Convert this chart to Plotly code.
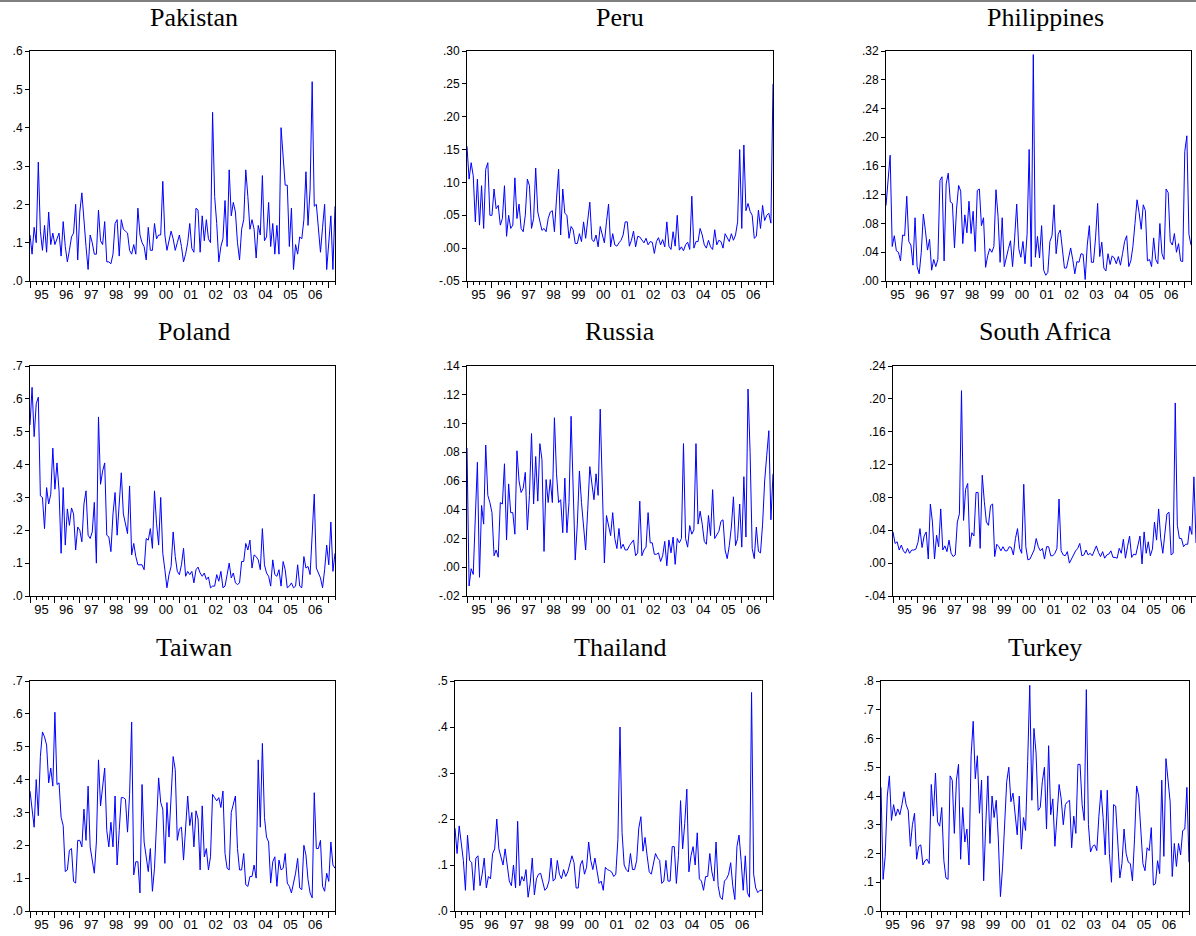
import plotly.graph_objects as go

# ---------------- data (monthly, 1995M01 - 2007M04) ----------------
year_labels = ["95", "96", "97", "98", "99", "00", "01", "02", "03", "04", "05", "06"]

pakistan = [
    0.12, 0.07, 0.14, 0.10, 0.31, 0.13, 0.08, 0.145, 0.075, 0.18, 0.095, 0.125,
    0.095, 0.11, 0.125, 0.065, 0.155, 0.09, 0.05, 0.08, 0.115, 0.125, 0.20, 0.055,
    0.18, 0.23, 0.15, 0.09, 0.03, 0.12, 0.10, 0.07, 0.07, 0.185, 0.105, 0.095,
    0.155, 0.05, 0.05, 0.045, 0.07, 0.15, 0.16, 0.065, 0.16, 0.135, 0.13, 0.125,
    0.08, 0.07, 0.095, 0.07, 0.19, 0.12, 0.10, 0.09, 0.055, 0.14, 0.08, 0.08,
    0.15, 0.11, 0.12, 0.12, 0.26, 0.12, 0.08, 0.11, 0.13, 0.11, 0.08, 0.10,
    0.12, 0.09, 0.05, 0.07, 0.10, 0.15, 0.085, 0.075, 0.19, 0.185, 0.075, 0.17,
    0.105, 0.16, 0.11, 0.10, 0.44, 0.22, 0.15, 0.05, 0.09, 0.11, 0.21, 0.09,
    0.29, 0.17, 0.205, 0.18, 0.10, 0.055, 0.135, 0.16, 0.29, 0.22, 0.135, 0.16,
    0.135, 0.06, 0.145, 0.12, 0.275, 0.105, 0.115, 0.205, 0.09, 0.15, 0.07, 0.145,
    0.07, 0.40, 0.33, 0.25, 0.25, 0.09, 0.19, 0.03, 0.095, 0.07, 0.115, 0.11,
    0.16, 0.285, 0.145, 0.24, 0.52, 0.195, 0.20, 0.13, 0.075, 0.14, 0.20, 0.03,
    0.11, 0.17, 0.03, 0.195,
]

peru = [
    0.155, 0.105, 0.13, 0.11, 0.04, 0.105, 0.035, 0.095, 0.03, 0.12, 0.13, 0.05,
    0.05, 0.09, 0.06, 0.065, 0.035, 0.045, 0.095, 0.018, 0.05, 0.03, 0.035, 0.107,
    0.045, 0.067, 0.03, 0.025, 0.05, 0.105, 0.095, 0.03, 0.045, 0.122, 0.055, 0.04,
    0.027, 0.03, 0.025, 0.045, 0.055, 0.057, 0.025, 0.075, 0.12, 0.02, 0.09, 0.053,
    0.05, 0.015, 0.033, 0.028, 0.007, 0.007, 0.022, 0.01, 0.04, 0.015, 0.045, 0.07,
    0.013, 0.01, 0.02, 0.002, 0.033, 0.02, 0.008, 0.04, 0.067, 0.002, 0.022, 0.005,
    0.003, 0.008, 0.012, 0.02, 0.04, 0.04, 0.003, 0.012, 0.026, 0.002, 0.018, 0.017,
    0.013, 0.008, 0.015, 0.005, 0.01, 0.009, -0.008, 0.01, 0.016, 0.005, 0.013, 0.002,
    0.04, 0.003, -0.002, 0.025, 0.003, 0.05, -0.003, 0.002, -0.004, 0.005, 0.009, -0.002,
    0.079, 0.0, 0.01, 0.01, 0.03, 0.02, 0.005, 0.0, 0.012, 0.002, -0.002, 0.028,
    0.005, 0.012, 0.01, 0.0, 0.022, 0.016, 0.01, 0.022, 0.012, 0.02, 0.04, 0.15,
    0.03, 0.157, 0.057, 0.068, 0.056, 0.05, 0.015, 0.018, 0.058, 0.03, 0.065, 0.042,
    0.05, 0.053, 0.038, 0.25,
]

philippines = [
    0.105, 0.14, 0.175, 0.048, 0.063, 0.042, 0.04, 0.028, 0.064, 0.063, 0.118, 0.055,
    0.05, 0.022, 0.088, 0.02, 0.01, 0.04, 0.093, 0.07, 0.043, 0.058, 0.015, 0.03,
    0.02, 0.03, 0.14, 0.145, 0.028, 0.135, 0.15, 0.11, 0.108, 0.046, 0.10, 0.133,
    0.125, 0.052, 0.092, 0.067, 0.111, 0.066, 0.097, 0.041, 0.126, 0.128, 0.077, 0.088,
    0.019, 0.035, 0.045, 0.04, 0.048, 0.127, 0.09, 0.026, 0.088, 0.02, 0.035, 0.045,
    0.056, 0.02, 0.06, 0.107, 0.045, 0.033, 0.055, 0.024, 0.065, 0.183, 0.02, 0.315,
    0.033, 0.062, 0.032, 0.077, 0.015, 0.008, 0.012, 0.055, 0.063, 0.106, 0.038, 0.065,
    0.071, 0.04, 0.018, 0.018, 0.033, 0.046, 0.03, 0.01, 0.027, 0.026, 0.038, 0.037,
    0.002, 0.05, 0.077, 0.026, 0.026, 0.06, 0.108, 0.034, 0.054, 0.018, 0.014, 0.038,
    0.023, 0.035, 0.032, 0.024, 0.034, 0.022, 0.038, 0.055, 0.063, 0.02, 0.028, 0.048,
    0.08, 0.113, 0.095, 0.072, 0.106, 0.098, 0.028, 0.03, 0.02, 0.06, 0.03, 0.024,
    0.08, 0.038, 0.03, 0.128, 0.123, 0.055, 0.05, 0.066, 0.04, 0.052, 0.028, 0.027,
    0.18, 0.202, 0.065, 0.05,
]

poland = [
    0.52, 0.635, 0.485, 0.585, 0.605, 0.305, 0.30, 0.205, 0.33, 0.28, 0.31, 0.45,
    0.325, 0.405, 0.32, 0.13, 0.33, 0.155, 0.265, 0.215, 0.268, 0.25, 0.14, 0.21,
    0.20, 0.165, 0.28, 0.32, 0.185, 0.175, 0.195, 0.285, 0.10, 0.545, 0.34, 0.38,
    0.405, 0.185, 0.18, 0.135, 0.25, 0.315, 0.185, 0.275, 0.375, 0.25, 0.22, 0.19,
    0.335, 0.125, 0.16, 0.12, 0.095, 0.095, 0.095, 0.08, 0.175, 0.17, 0.205, 0.145,
    0.32, 0.22, 0.155, 0.30, 0.13, 0.08, 0.025, 0.065, 0.09, 0.195, 0.12, 0.075,
    0.065, 0.095, 0.145, 0.06, 0.075, 0.065, 0.075, 0.04, 0.08, 0.088, 0.07, 0.06,
    0.07, 0.05, 0.058, 0.025, 0.03, 0.03, 0.065, 0.045, 0.075, 0.025, 0.03, 0.065,
    0.10, 0.055, 0.07, 0.04, 0.035, 0.04, 0.105, 0.105, 0.16, 0.14, 0.17, 0.085,
    0.125, 0.12, 0.11, 0.08, 0.205, 0.095, 0.07, 0.06, 0.03, 0.11, 0.065, 0.06,
    0.08, 0.03, 0.105, 0.08, 0.025, 0.03, 0.04, 0.025, 0.03, 0.095, 0.03, 0.025,
    0.12, 0.085, 0.09, 0.065, 0.19, 0.31, 0.085, 0.07, 0.055, 0.025, 0.08, 0.155,
    0.095, 0.225, 0.075, 0.13,
]

russia = [
    0.083, -0.013, -0.001, -0.005, 0.035, 0.073, -0.007, 0.043, 0.03, 0.085, 0.05, 0.045,
    0.038, 0.008, 0.012, 0.007, 0.045, 0.044, 0.072, 0.019, 0.058, 0.038, 0.038, 0.023,
    0.081, 0.06, 0.052, 0.055, 0.066, 0.026, 0.05, 0.093, 0.044, 0.077, 0.046, 0.086,
    0.075, 0.011, 0.061, 0.045, 0.061, 0.045, 0.104, 0.065, 0.045, 0.047, 0.024, 0.062,
    0.024, 0.045, 0.105, 0.05, 0.005, 0.03, 0.067, 0.045, 0.03, 0.012, 0.04, 0.07,
    0.058, 0.047, 0.065, 0.05, 0.11, 0.045, 0.003, 0.036, 0.03, 0.022, 0.038, 0.02,
    0.013, 0.027, 0.013, 0.016, 0.012, 0.012, 0.015, 0.017, 0.019, 0.008, 0.01, 0.046,
    0.008, 0.012, 0.014, 0.038, 0.017, 0.017, 0.009, 0.009, 0.01, 0.004, 0.008, 0.018,
    0.001, 0.019, 0.01, 0.021, 0.002, 0.02, 0.017, 0.02, 0.086, 0.02, 0.014, 0.029,
    0.023, 0.026, 0.086, 0.03, 0.039, 0.03, 0.018, 0.016, 0.036, 0.022, 0.054, 0.02,
    0.023, 0.025, 0.032, 0.033, 0.012, 0.006, 0.015, 0.028, 0.049, 0.015, 0.02, 0.044,
    0.014, 0.063, 0.021, 0.124, 0.08, 0.013, 0.006, 0.028, 0.011, 0.01, 0.03, 0.06,
    0.078, 0.095, 0.033, 0.065,
]

south_africa = [
    0.038, 0.024, 0.026, 0.016, 0.022, 0.015, 0.012, 0.018, 0.012, 0.016, 0.016, 0.017,
    0.025, 0.042, 0.019, 0.033, 0.038, 0.005, 0.072, 0.05, 0.005, 0.034, 0.02, 0.066,
    0.016, 0.021, 0.014, 0.028, 0.012, 0.008, 0.01, 0.05, 0.06, 0.21, 0.052, 0.09,
    0.097, 0.02, 0.037, 0.033, 0.086, 0.086, 0.018, 0.107, 0.075, 0.05, 0.046, 0.07,
    0.072, 0.008, 0.023, 0.02, 0.015, 0.02, 0.015, 0.015, 0.02, 0.019, 0.01, 0.03,
    0.042, 0.018, 0.012, 0.096, 0.02, 0.004, 0.005, 0.01, 0.016, 0.03, 0.02, 0.015,
    0.018, 0.005, 0.02, 0.02, 0.009, 0.009, 0.012, 0.018, 0.078, 0.015, 0.01, 0.009,
    0.014, 0.0, 0.006, 0.01, 0.015, 0.018, 0.024, 0.009, 0.01, 0.016, 0.01, 0.012,
    0.009, 0.015, 0.021, 0.013, 0.008, 0.014, 0.006, 0.01, 0.011, 0.015, 0.007, 0.007,
    0.006, 0.018, 0.012, 0.029, 0.006, 0.02, 0.033, 0.007, 0.011, 0.01, 0.021, 0.033,
    -0.001, 0.038, 0.012, 0.026, 0.009, 0.017, 0.05, 0.028, 0.066, 0.03, 0.012, 0.035,
    0.06, 0.062, 0.01, 0.012, 0.195, 0.046, 0.03, 0.03, 0.02, 0.023, 0.023, 0.045,
    0.035, 0.105, 0.025, 0.03,
]

taiwan = [
    0.365, 0.30, 0.255, 0.40, 0.29, 0.47, 0.545, 0.53, 0.505, 0.39, 0.435, 0.38,
    0.605, 0.385, 0.39, 0.285, 0.26, 0.12, 0.125, 0.185, 0.19, 0.09, 0.085, 0.215,
    0.215, 0.195, 0.31, 0.215, 0.38, 0.195, 0.155, 0.115, 0.21, 0.46, 0.32, 0.38,
    0.435, 0.245, 0.195, 0.27, 0.195, 0.35, 0.14, 0.245, 0.345, 0.345, 0.34, 0.24,
    0.355, 0.575, 0.11, 0.15, 0.15, 0.055, 0.385, 0.21, 0.16, 0.12, 0.19, 0.06,
    0.13, 0.25, 0.405, 0.33, 0.31, 0.145, 0.33, 0.225, 0.37, 0.47, 0.43, 0.215,
    0.25, 0.255, 0.155, 0.24, 0.35, 0.26, 0.30, 0.195, 0.305, 0.28, 0.125, 0.32,
    0.165, 0.19, 0.125, 0.165, 0.355, 0.345, 0.335, 0.345, 0.315, 0.365, 0.175, 0.13,
    0.125, 0.30, 0.33, 0.35, 0.19, 0.125, 0.125, 0.175, 0.08, 0.075, 0.105, 0.105,
    0.14, 0.10, 0.46, 0.255, 0.51, 0.285, 0.225, 0.21, 0.085, 0.15, 0.165, 0.075,
    0.155, 0.125, 0.13, 0.175, 0.085, 0.075, 0.055, 0.085, 0.115, 0.16, 0.07, 0.065,
    0.20, 0.17, 0.095, 0.055, 0.04, 0.36, 0.19, 0.19, 0.215, 0.075, 0.06, 0.115,
    0.09, 0.21, 0.14, 0.13,
]

thailand = [
    0.18, 0.125, 0.185, 0.14, 0.11, 0.045, 0.165, 0.11, 0.105, 0.045, 0.115, 0.12,
    0.055, 0.08, 0.115, 0.05, 0.075, 0.07, 0.125, 0.135, 0.20, 0.135, 0.12, 0.10,
    0.135, 0.095, 0.065, 0.055, 0.10, 0.05, 0.195, 0.055, 0.075, 0.065, 0.09, 0.03,
    0.06, 0.115, 0.035, 0.07, 0.08, 0.082, 0.06, 0.045, 0.05, 0.065, 0.115, 0.065,
    0.07, 0.11, 0.08, 0.07, 0.09, 0.075, 0.085, 0.105, 0.12, 0.105, 0.05, 0.05,
    0.10, 0.11, 0.08, 0.095, 0.15, 0.11, 0.09, 0.115, 0.085, 0.06, 0.065, 0.045,
    0.095, 0.09, 0.088, 0.085, 0.075, 0.08, 0.155, 0.40, 0.17, 0.10, 0.09, 0.085,
    0.125, 0.09, 0.09, 0.11, 0.18, 0.205, 0.13, 0.16, 0.12, 0.085, 0.08, 0.105,
    0.125, 0.115, 0.11, 0.06, 0.065, 0.11, 0.065, 0.065, 0.14, 0.14, 0.06, 0.12,
    0.24, 0.135, 0.19, 0.265, 0.085, 0.12, 0.14, 0.10, 0.17, 0.07, 0.065, 0.045,
    0.075, 0.075, 0.125, 0.085, 0.065, 0.15, 0.055, 0.03, 0.025, 0.065, 0.07, 0.08,
    0.105, 0.055, 0.025, 0.14, 0.165, 0.11, 0.045, 0.12, 0.04, 0.03, 0.475, 0.08,
    0.05, 0.04, 0.045, 0.045,
]

turkey = [
    0.43, 0.11, 0.19, 0.40, 0.47, 0.315, 0.37, 0.33, 0.355, 0.335, 0.37, 0.415,
    0.37, 0.35, 0.225, 0.30, 0.34, 0.18, 0.225, 0.23, 0.16, 0.175, 0.18, 0.165,
    0.44, 0.33, 0.48, 0.31, 0.295, 0.36, 0.175, 0.115, 0.11, 0.47, 0.455, 0.27,
    0.455, 0.51, 0.18, 0.36, 0.24, 0.285, 0.16, 0.54, 0.66, 0.46, 0.54, 0.34,
    0.455, 0.105, 0.30, 0.47, 0.235, 0.40, 0.325, 0.385, 0.25, 0.05, 0.15, 0.30,
    0.45, 0.50, 0.38, 0.41, 0.33, 0.265, 0.40, 0.215, 0.325, 0.28, 0.52, 0.785,
    0.385, 0.635, 0.55, 0.35, 0.36, 0.45, 0.50, 0.285, 0.575, 0.335, 0.39, 0.225,
    0.33, 0.44, 0.39, 0.30, 0.37, 0.38, 0.385, 0.22, 0.33, 0.27, 0.51, 0.51,
    0.37, 0.315, 0.77, 0.30, 0.205, 0.225, 0.23, 0.21, 0.33, 0.42, 0.325, 0.195,
    0.42, 0.20, 0.10, 0.37, 0.365, 0.24, 0.115, 0.165, 0.285, 0.20, 0.17, 0.165,
    0.105, 0.25, 0.435, 0.40, 0.30, 0.165, 0.14, 0.22, 0.21, 0.29, 0.09, 0.095,
    0.175, 0.13, 0.455, 0.19, 0.53, 0.465, 0.38, 0.12, 0.235, 0.155, 0.235, 0.195,
    0.28, 0.285, 0.43, 0.17,
]

# y tick values / labels per panel
ticks_01_6 = [0.0, 0.1, 0.2, 0.3, 0.4, 0.5, 0.6]
labels_01_6 = [".0", ".1", ".2", ".3", ".4", ".5", ".6"]
ticks_peru = [-0.05, 0.0, 0.05, 0.10, 0.15, 0.20, 0.25, 0.30]
labels_peru = ["-.05", ".00", ".05", ".10", ".15", ".20", ".25", ".30"]
ticks_phil = [0.0, 0.04, 0.08, 0.12, 0.16, 0.20, 0.24, 0.28, 0.32]
labels_phil = [".00", ".04", ".08", ".12", ".16", ".20", ".24", ".28", ".32"]
ticks_07 = [0.0, 0.1, 0.2, 0.3, 0.4, 0.5, 0.6, 0.7]
labels_07 = [".0", ".1", ".2", ".3", ".4", ".5", ".6", ".7"]
ticks_rus = [-0.02, 0.0, 0.02, 0.04, 0.06, 0.08, 0.10, 0.12, 0.14]
labels_rus = ["-.02", ".00", ".02", ".04", ".06", ".08", ".10", ".12", ".14"]
ticks_sa = [-0.04, 0.0, 0.04, 0.08, 0.12, 0.16, 0.20, 0.24]
labels_sa = ["-.04", ".00", ".04", ".08", ".12", ".16", ".20", ".24"]
ticks_05 = [0.0, 0.1, 0.2, 0.3, 0.4, 0.5]
labels_05 = [".0", ".1", ".2", ".3", ".4", ".5"]
ticks_08 = [0.0, 0.1, 0.2, 0.3, 0.4, 0.5, 0.6, 0.7, 0.8]
labels_08 = [".0", ".1", ".2", ".3", ".4", ".5", ".6", ".7", ".8"]

# ---------------- layout geometry (pixels) ----------------
W, H = 1196, 936
panels = [
    # title, data, yticks, ylabels, (x0, x1, ytop, ybot), xmax, title centre x, title y
    ("Pakistan", pakistan, ticks_01_6, labels_01_6, (30, 335, 51, 281), 147, 194, 17),
    ("Peru", peru, ticks_peru, labels_peru, (467, 773, 51, 281), 147, 620, 17),
    ("Philippines", philippines, ticks_phil, labels_phil, (886, 1191, 51, 281), 147, 1045, 17),
    ("Poland", poland, ticks_07, labels_07, (30, 335, 366, 596), 147, 194, 331),
    ("Russia", russia, ticks_rus, labels_rus, (467, 773, 366, 596), 147, 620, 331),
    ("South Africa", south_africa, ticks_sa, labels_sa, (893, 1196, 366, 596), 146, 1045, 331),
    ("Taiwan", taiwan, ticks_07, labels_07, (30, 335, 681, 911), 147, 194, 647),
    ("Thailand", thailand, ticks_05, labels_05, (455, 762, 681, 911), 147, 620, 647),
    ("Turkey", turkey, ticks_08, labels_08, (881, 1189, 681, 911), 147, 1045, 647),
]

year_starts = [12 * k for k in range(13)]
year_mids = [12 * k + 5.5 for k in range(12)]
quarter_ticks = [3 * k for k in range(50)]

fig = go.Figure()
layout = dict(
    width=W, height=H, margin=dict(l=0, r=0, t=0, b=0, pad=0), autosize=False,
    paper_bgcolor="white", plot_bgcolor="white", showlegend=False,
    font=dict(family="Liberation Sans, Arial, sans-serif", size=12, color="black"),
)
annotations = []

for i, (title, vals, yt, yl, (x0, x1, yt_px, yb_px), xmax, tx, ty) in enumerate(panels):
    n = i + 1
    xs = "" if n == 1 else str(n)
    xo = str(n + 9)
    months = list(range(len(vals)))
    fig.add_trace(go.Scatter(
        x=months, y=vals, mode="lines",
        line=dict(color="#0000FF", width=1),
        xaxis="x" + xs, yaxis="y" + xs, hoverinfo="skip",
    ))
    # invisible trace to anchor the overlay axis that carries the year ticks
    fig.add_trace(go.Scatter(
        x=[0], y=[None], mode="lines", xaxis="x" + xo, yaxis="y" + xs,
        hoverinfo="skip", showlegend=False,
    ))
    dom_x = [x0 / W, x1 / W]
    dom_y = [1 - yb_px / H, 1 - yt_px / H]
    layout["xaxis" + xs] = dict(
        domain=dom_x, range=[0, xmax], anchor="y" + xs, automargin=False,
        tickmode="array", tickvals=year_mids, ticktext=year_labels,
        ticks="", showgrid=False, zeroline=False,
        showline=True, linecolor="black", linewidth=1, mirror=True,
        tickfont=dict(size=13), ticklabelstandoff=1,
        minor=dict(tickmode="array", tickvals=quarter_ticks, ticks="outside",
                   ticklen=3, tickcolor="black", tickwidth=1, showgrid=False),
    )
    layout["xaxis" + xo] = dict(
        overlaying="x" + xs, anchor="y" + xs, side="bottom", automargin=False,
        range=[0, xmax], tickmode="array", tickvals=year_starts,
        showticklabels=False, ticks="outside", ticklen=6, tickcolor="black",
        tickwidth=1, showgrid=False, zeroline=False, showline=False,
    )
    layout["yaxis" + xs] = dict(
        domain=dom_y, range=[yt[0], yt[-1]], anchor="x" + xs, automargin=False,
        tickmode="array", tickvals=yt, ticktext=yl,
        ticks="outside", ticklen=4, tickcolor="black",
        showgrid=False, zeroline=False,
        showline=True, linecolor="black", linewidth=1, mirror=True,
        tickfont=dict(size=12),
    )
    annotations.append(dict(
        text=title, x=tx / W, y=1 - ty / H, xref="paper", yref="paper",
        xanchor="center", yanchor="middle", showarrow=False,
        font=dict(family="Liberation Serif, Times New Roman, serif", size=26, color="black"),
    ))

layout["annotations"] = annotations
layout["shapes"] = [dict(type="line", xref="paper", yref="paper",
                         x0=0, x1=1, y0=1 - 1.0 / H, y1=1 - 1.0 / H,
                         line=dict(color="black", width=1))]
fig.update_layout(**layout)

# pin the graph to the page's top-left corner (no default body margin)
pin_js = (
    "document.body.style.margin='0';document.body.style.padding='0';"
    "document.body.style.overflow='hidden';"
    "var d=document.getElementById('{plot_id}');"
    "d.style.position='absolute';d.style.left='0px';d.style.top='0px';"
)
fig.write_html("out.html", post_script=pin_js, config={"displayModeBar": False})
